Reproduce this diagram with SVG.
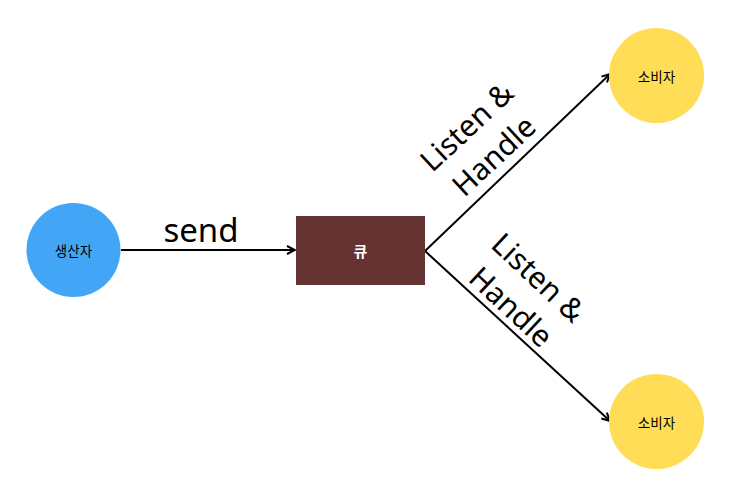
<svg xmlns="http://www.w3.org/2000/svg" width="753" height="486" viewBox="0 0 753 486">
<style>
.lbl{font-family:"Noto Sans","Open Sans","Liberation Sans",sans-serif;fill:#000;}
.ko{font-family:"Noto Sans CJK KR","Noto Sans",sans-serif;font-size:13.5px;fill:#000;text-anchor:middle;dominant-baseline:central;}
.edge{stroke:#000;stroke-width:2;fill:none;}
</style>
<defs>
<marker id="arr" viewBox="0 0 10 10" refX="9" refY="5" markerWidth="10" markerHeight="10" markerUnits="userSpaceOnUse" orient="auto">
<path d="M1,1 L9,5 L1,9" fill="none" stroke="#000" stroke-width="2"/>
</marker>
</defs>
<rect width="753" height="486" fill="#fff"/>
<g id="connectors">
<line class="edge" x1="121" y1="250" x2="295" y2="250" marker-end="url(#arr)"/>
<line class="edge" x1="425" y1="251" x2="610" y2="74" marker-end="url(#arr)"/>
<line class="edge" x1="425" y1="251" x2="610" y2="421" marker-end="url(#arr)"/>
<text class="lbl" x="201" y="242" font-size="33" text-anchor="middle">send</text>
<g transform="translate(480,141) rotate(-43)">
<text class="lbl" font-size="30" text-anchor="middle"><tspan x="0" y="-9">Listen &amp;</tspan><tspan x="0" y="31">Handle</tspan></text>
</g>
<g transform="translate(525,292) rotate(43)">
<text class="lbl" font-size="30" text-anchor="middle"><tspan x="0" y="-9">Listen &amp;</tspan><tspan x="0" y="31">Handle</tspan></text>
</g>
</g>
<g id="producer">
<circle cx="73.5" cy="250" r="47" fill="#42a5f5"/>
<text class="ko" x="73.5" y="250">생산자</text>
</g>
<g id="queue">
<rect x="296" y="216" width="129" height="69" fill="#663333"/>
<text class="ko" x="360.5" y="250.5" style="fill:#fff;font-weight:bold;font-size:15px">큐</text>
</g>
<g id="consumer1">
<circle cx="656.5" cy="75.5" r="47.5" fill="#ffdd57"/>
<text class="ko" x="656.5" y="75.5">소비자</text>
</g>
<g id="consumer2">
<circle cx="656.5" cy="421.5" r="47.5" fill="#ffdd57"/>
<text class="ko" x="656.5" y="421.5">소비자</text>
</g>
</svg>
